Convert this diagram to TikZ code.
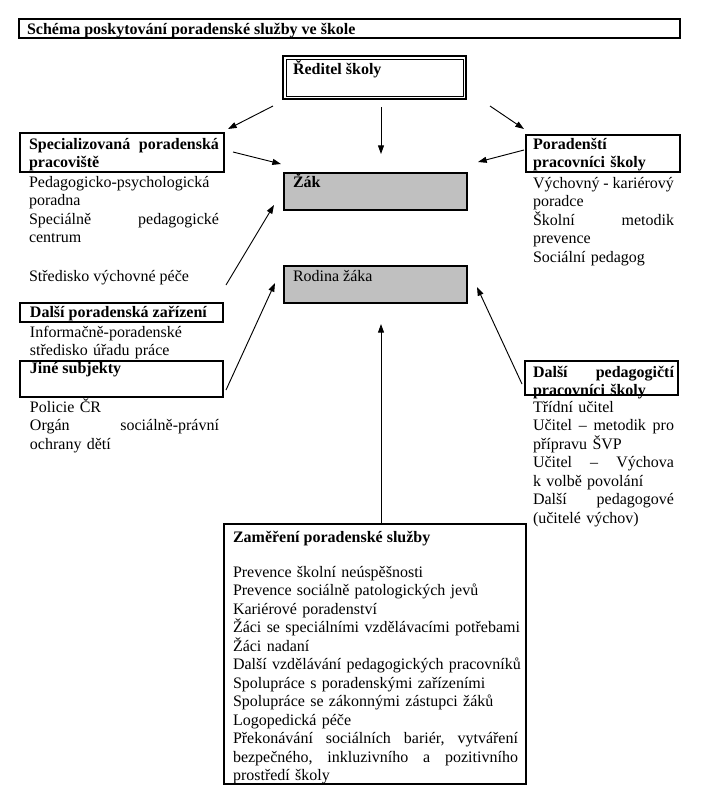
\documentclass[tikz,border=0pt]{standalone}
\usepackage{fontspec}
\setmainfont{Liberation Serif}
\usetikzlibrary{arrows.meta}
\definecolor{boxgray}{RGB}{192,192,192}
\begin{document}
\begin{tikzpicture}[x=0.75pt,y=-0.75pt,
  every node/.style={inner sep=0pt, outer sep=0pt},
  txt/.style={anchor=base west, align=left, font=\fontsize{12pt}{13.9pt}\selectfont},
  btxt/.style={txt, font=\fontsize{12pt}{13.9pt}\selectfont\bfseries},
  frame/.style={draw, line width=0.8pt, anchor=north west},
  grayframe/.style={frame, fill=boxgray},
  arr/.style={-{Triangle[length=6.5pt,width=4.5pt]}, line width=0.7pt},
]
\useasboundingbox[fill=white] (0,0) rectangle (706,808);

% boxes
\node[frame, minimum width=495.75pt, minimum height=14.25pt] (title) at (19,19) {};
\node[frame, minimum width=137.25pt, minimum height=32.25pt] (red) at (283,56) {};
\node[frame, line width=0.6pt, minimum width=132.75pt, minimum height=27.75pt] (redi) at (286,59) {};
\node[frame, minimum width=153pt, minimum height=29.25pt] (spec) at (20,133) {};
\node[grayframe, minimum width=137.25pt, minimum height=27.75pt] (zak) at (284,173) {};
\node[grayframe, minimum width=137.25pt, minimum height=27.75pt] (rod) at (284,266) {};
\node[frame, minimum width=115.5pt, minimum height=27.75pt] (por) at (526,135) {};
\node[frame, minimum width=152.25pt, minimum height=14.25pt] (dpz) at (20,303) {};
\node[frame, minimum width=152.25pt, minimum height=27pt] (jine) at (20,361) {};
\node[frame, minimum width=114.75pt, minimum height=25.5pt] (dped) at (525,361) {};
\node[frame, minimum width=226.5pt, minimum height=195pt] (zam) at (224,524) {};

% texts
\node[btxt] (titlet) at (27,34) {Schéma poskytování poradenské služby ve škole};
\node[btxt] (redt) at (293,74) {Ředitel školy};
\node[btxt, text width=142.5pt] (spect) at (29,149) {Specializovaná\hfill poradenská\\pracoviště};
\node[txt, text width=142.5pt] (specl) at (29,187) {Pedagogicko-psychologická\\poradna\\Speciálně\hfill pedagogické\\centrum};
\node[txt] (stred) at (29,281) {Středisko výchovné péče};
\node[btxt] (zakt) at (293,187) {Žák};
\node[txt] (rodt) at (293,281) {Rodina žáka};
\node[btxt, text width=105.75pt] (port) at (533,149) {Poradenští\\pracovníci školy};
\node[txt, text width=105.75pt] (porl) at (533,188) {Výchovný\hfill -\hfill kariérový\\poradce\\Školní\hfill metodik\\prevence\\Sociální pedagog};
\node[btxt] (dpzt) at (30,317) {Další poradenská zařízení};
\node[txt, text width=141.75pt] (dpzl) at (30,337) {Informačně-poradenské\\středisko úřadu práce};
\node[btxt] (jinet) at (30,373) {Jiné subjekty};
\node[txt, text width=141.75pt] (jinel) at (30,412) {Policie ČR\\Orgán\hfill sociálně-právní\\ochrany dětí};
\node[btxt, text width=105.75pt] (dpedt) at (533,377) {Další\hfill pedagogičtí\\pracovníci školy};
\node[txt, text width=105.75pt] (dpedl) at (533,412) {Třídní učitel\\Učitel\hfill –\hfill metodik\hfill pro\\přípravu ŠVP\\Učitel\hfill –\hfill Výchova\\k volbě povolání\\Další\hfill pedagogové\\(učitelé výchov)};
\node[btxt] (zamt) at (233,542) {Zaměření poradenské služby};
\node[txt, text width=213.75pt] (zaml) at (233,577) {\mbox{Prevence školní neúspěšnosti}\\
\mbox{Prevence sociálně patologických jevů}\\
\mbox{Kariérové poradenství}\\
\mbox{Žáci se speciálními vzdělávacími potřebami}\\
\mbox{Žáci nadaní}\\
\mbox{Další vzdělávání pedagogických pracovníků}\\
\mbox{Spolupráce s poradenskými zařízeními}\\
\mbox{Spolupráce se zákonnými zástupci žáků}\\
\mbox{Logopedická péče}\\
Překonávání\hfill sociálních\hfill bariér,\hfill vytváření\\
bezpečného,\hfill inkluzivního\hfill a\hfill pozitivního\\
\mbox{prostředí školy}};

% arrow end points
\coordinate (r1) at (273,106);
\coordinate (s1) at (228,129);
\coordinate (r2) at (381,107);
\coordinate (z1) at (381,154);
\coordinate (r3) at (490,106);
\coordinate (p1) at (524,129);
\coordinate (s2) at (233,152);
\coordinate (z2) at (281,164);
\coordinate (p2) at (524,150);
\coordinate (z3) at (478,162);
\coordinate (st1) at (226,285);
\coordinate (z4) at (274,205);
\coordinate (j1) at (226,390);
\coordinate (rd1) at (275,283);
\coordinate (dp1) at (522,384);
\coordinate (rd2) at (477,287);
\coordinate (zm1) at (381,524);
\coordinate (rd3) at (381,324);

\draw[arr] (r1) -- (s1);
\draw[arr] (r2) -- (z1);
\draw[arr] (r3) -- (p1);
\draw[arr] (s2) -- (z2);
\draw[arr] (p2) -- (z3);
\draw[arr] (st1) -- (z4);
\draw[arr] (j1) -- (rd1);
\draw[arr] (dp1) -- (rd2);
\draw[arr] (zm1) -- (rd3);
\end{tikzpicture}
\end{document}
